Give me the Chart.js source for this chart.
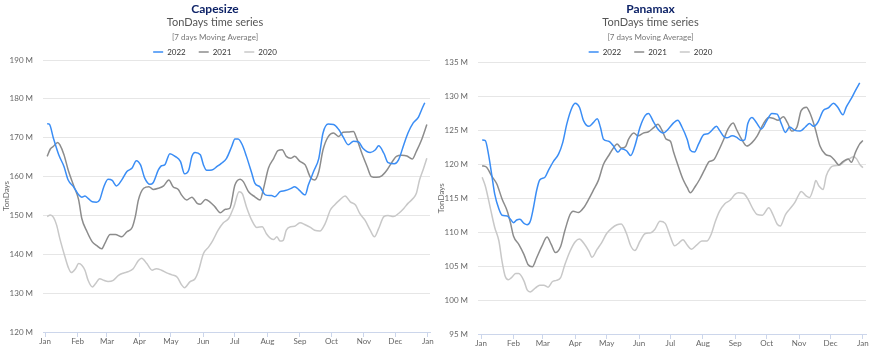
<!DOCTYPE html>
<html>
<head>
<meta charset="utf-8">
<script src="https://cdn.jsdelivr.net/npm/chart.js@4.4.1/dist/chart.umd.min.js"></script>
<style>
  body { margin: 0; background: #fff; }
  #capeBox { position: absolute; left: 0; top: 0; width: 440px; height: 352px; }
  #panaBox { position: absolute; left: 435px; top: 0; width: 439px; height: 352px; }
</style>
</head>
<body>
<div id="capeBox"><canvas id="cape"></canvas></div>
<div id="panaBox"><canvas id="pana"></canvas></div>
<script>
// x is day of year, y is TonDays in millions (7 days moving average)
var years = ['2022', '2021', '2020'];
var colors = ['#3a8df5', '#8c8c8c', '#c8c8c8'];
var monthStarts = [0, 31, 59, 90, 120, 151, 181, 212, 243, 273, 304, 334, 365];
var monthLabels = ['Jan', 'Feb', 'Mar', 'Apr', 'May', 'Jun', 'Jul', 'Aug', 'Sep', 'Oct', 'Nov', 'Dec', 'Jan'];

// Capesize
var cape2022 = [[2,173.6],[4,173.5],[8,169.8],[13,165.6],[18,162.6],[22,159.1],[27,157.4],[32,155.3],[35,154.7],[38,155],[41,154.4],[45,153.5],[49,153.4],[52,154],[56,157.4],[60,159.3],[64,159],[68,157.6],[73,159.1],[78,161.3],[83,162.2],[87,164.1],[91,163],[95,159.6],[100,158],[103,158.4],[108,161.7],[111,162.8],[114,163],[119,165.9],[124,165.2],[129,163.9],[133,160.7],[137,161.7],[140,165.2],[143,166.2],[148,165.6],[151,163],[154,161.6],[159,161.7],[164,162.6],[168,163.4],[173,164.7],[178,167.8],[181,169.7],[184,169.7],[188,168.2],[192,165.2],[197,160.9],[200,158.3],[205,157.3],[210,155.3],[216,155.1],[219,154.8],[224,156.1],[229,156.4],[234,156.9],[238,157.4],[242,156.6],[248,155.3],[251,157.8],[256,161.3],[261,164.7],[265,171.2],[270,173.5],[275,173.4],[280,172.1],[284,170.3],[289,168.2],[294,169.1],[299,168.9],[303,167.3],[310,166.2],[315,166.9],[318,167.9],[323,166],[327,163.6],[333,163.3],[337,164.3],[342,168.2],[346,171.2],[351,173.8],[356,175.3],[359,177.2],[362,179]];
var cape2021 = [[2,165.2],[5,167.1],[8,167.8],[12,168.8],[14,168.2],[18,165.6],[22,161.7],[27,157.8],[32,154],[35,149.2],[40,145.8],[45,143.2],[49,142.3],[54,141.4],[57,142.8],[62,145.1],[67,145.1],[73,144.5],[78,145.8],[83,146.9],[86,149.7],[89,154],[94,157],[99,157.4],[103,156.7],[108,157],[113,157.6],[118,159.1],[122,157.4],[127,156.7],[130,155.3],[135,154],[140,154.7],[145,153.1],[148,152.9],[153,154.1],[157,153.5],[162,152.2],[167,150.7],[172,151.6],[176,151.8],[181,157.8],[186,159.3],[189,158.7],[194,156.1],[200,154.8],[205,154],[208,156.6],[213,162.2],[218,164.7],[222,166.7],[226,166.9],[230,165.2],[234,164.7],[238,165.2],[243,163.9],[248,163],[253,159.8],[257,159.1],[261,161.3],[265,166.9],[270,170.3],[275,171.2],[280,170.3],[284,171.4],[289,171.5],[294,171.6],[297,169.9],[302,166],[307,162.6],[311,160],[316,159.8],[321,160.2],[326,161.7],[330,163.4],[335,165.2],[340,165.5],[345,165.3],[350,164.5],[354,166.5],[359,169.5],[364,173.4]];
var cape2020 = [[2,149.7],[5,150.1],[8,149.5],[11,147.5],[14,144.1],[19,139.3],[22,136.7],[25,135.3],[29,136.3],[32,137.6],[35,137.2],[38,135.9],[41,133.3],[45,131.6],[48,132.4],[52,133.7],[56,133.3],[60,133],[65,133.3],[70,134.6],[75,135.2],[79,135.5],[84,136.3],[89,138.4],[92,139],[97,137.6],[102,135.9],[106,136.3],[111,135.9],[116,135.2],[121,134.7],[126,134.1],[130,132.2],[133,131.4],[138,132.9],[143,133.7],[146,135.5],[151,140.2],[156,141.9],[160,143.6],[165,146.2],[170,148.1],[175,149.2],[180,152.2],[185,156.1],[188,155.6],[192,152.2],[197,148.8],[202,146.9],[207,147.1],[211,145.3],[215,144.1],[218,143.8],[221,144.5],[224,143.4],[227,143.6],[230,146.2],[234,147.1],[238,147.2],[243,148.1],[248,147.6],[253,146.9],[257,146.2],[262,146],[267,147.9],[272,151.4],[276,152.7],[281,154],[286,155],[291,153.5],[296,152.7],[300,150.5],[305,148.8],[310,146.2],[314,144.5],[318,146.6],[323,149.7],[327,150],[332,149.7],[337,150.5],[342,151.8],[346,153.1],[351,154.4],[354,155.7],[357,159.1],[361,162.2],[364,164.7]];

// Panamax
var pana2022 = [[1,123.6],[4,123.5],[7,121.5],[10,118.6],[13,115.6],[17,113.4],[20,112.5],[25,112.4],[28,111.9],[31,111.4],[34,111.8],[37,111.9],[41,111.3],[44,111.1],[47,111.6],[50,113.6],[53,116.1],[56,117.7],[61,118.1],[64,119],[69,120.4],[74,121.5],[78,123.2],[82,126],[87,128.4],[90,129],[94,128.4],[98,126.4],[103,125.6],[107,126.1],[111,126.7],[114,125.5],[117,123.7],[122,123.4],[126,122.8],[131,121.8],[134,122.3],[139,122],[143,121.3],[147,122.7],[152,125.5],[157,127.2],[160,127.5],[165,126.2],[169,125.2],[174,124.6],[179,125.2],[184,126.1],[188,126.5],[192,125.5],[197,123.7],[200,122.1],[204,121.8],[208,123],[213,124.4],[217,124.5],[220,124.9],[225,125.6],[228,125],[232,124.1],[235,123.9],[240,124.2],[244,124],[249,123.5],[252,123.6],[255,126],[259,126.9],[263,126.2],[268,125.2],[273,126.4],[278,127.5],[283,127.4],[287,126],[291,124.7],[295,125.5],[300,125],[305,124.9],[310,125.5],[314,126],[318,125.6],[322,126.2],[327,127.9],[332,128.3],[337,129],[341,128.4],[346,127.3],[349,128.4],[354,129.7],[358,130.9],[362,132]];
var pana2021 = [[1,119.8],[5,119.6],[10,118.3],[15,117.1],[20,114.9],[25,113.1],[28,111.4],[31,109.4],[36,108.2],[41,106.7],[45,105.2],[49,104.9],[53,106.2],[58,107.9],[63,109.3],[67,108.2],[71,107],[76,107.9],[80,110.2],[85,112.6],[88,113.1],[93,112.9],[98,113.6],[103,114.9],[107,116.1],[112,117.6],[117,120],[122,121.3],[126,122.3],[130,123],[134,122.4],[138,122.6],[141,123.7],[146,124.6],[150,124.2],[155,124.6],[160,124.8],[165,125.4],[169,125.9],[173,125],[177,123.7],[181,123.4],[184,121.8],[189,119.5],[193,117.8],[197,116.6],[200,115.8],[205,116.8],[209,117.8],[214,119.3],[218,120.4],[222,120.6],[227,122],[232,123.7],[236,125.2],[241,126.1],[244,125.2],[249,123.7],[254,122.7],[259,123.2],[264,124.2],[270,126],[275,126.9],[279,126.8],[284,126.5],[289,127],[293,126.1],[297,124.9],[302,125.5],[306,127.9],[311,128.4],[314,127.7],[319,125.5],[324,122.7],[329,121.5],[334,121.2],[338,120.6],[342,119.9],[346,120.4],[351,120.8],[354,120.3],[358,121.8],[362,123],[365,123.5]];
var pana2020 = [[1,118.1],[4,116.8],[9,113.4],[13,110.7],[17,108.7],[20,105.7],[23,103.5],[26,103],[29,103.3],[33,103.9],[36,103.9],[41,102.8],[44,101.5],[47,101.2],[52,101.8],[56,102.2],[60,102.2],[64,101.9],[68,102.7],[72,102.9],[76,103.3],[80,105.2],[85,107.2],[90,108.6],[94,109],[98,108.4],[103,107.2],[106,106.3],[111,107.5],[115,108.4],[120,109.8],[125,110.6],[130,111.1],[134,111.2],[139,109.8],[143,108],[147,107.3],[152,108.7],[157,109.8],[162,109.9],[166,110.4],[171,111.6],[176,111.3],[181,109.3],[185,108],[189,108.4],[193,108.9],[197,108.1],[201,107.5],[206,108.1],[211,108.7],[216,108.7],[220,109.7],[224,111.6],[228,113.1],[233,114.2],[238,114.7],[243,115.6],[246,115.8],[251,115.7],[255,114.9],[260,113.4],[264,112.6],[269,112.5],[275,113.6],[279,112.6],[283,111.2],[286,110.9],[291,112.6],[295,113.4],[300,114.4],[303,115.3],[306,116],[311,115.3],[314,115.1],[318,116.6],[320,117.6],[323,116.8],[327,116.3],[330,118.3],[334,119.5],[338,119.8],[343,119.9],[348,120.5],[353,120.9],[356,121.1],[359,120.8],[362,120],[365,119.5]];

Chart.defaults.font.family = 'Lato, "Open Sans", sans-serif';

function makeChart(id, title, series, yMin, yMax, yStep, xMin, xMax, pad, trim) {
	// legend is a bit too tall by default, cut it down
	var trimLegend = {
		id: 'trimLegend',
		afterInit: function (chart) {
			var lg = chart.legend;
			var fit = lg.fit;
			lg.fit = function () { fit.call(this); this.height -= trim; };
		}
	};
	return new Chart(document.getElementById(id), {
		type: 'line',
		data: {
			datasets: series.map(function (s, i) {
				return {
					label: years[i],
					data: s.map(function (p) { return { x: p[0], y: p[1] }; }),
					borderColor: colors[i],
					backgroundColor: colors[i],
					borderWidth: 1.5,
					pointRadius: 0,
					cubicInterpolationMode: 'monotone',
					fill: false
				};
			})
		},
		plugins: [trimLegend],
		options: {
			responsive: true,
			maintainAspectRatio: false,
			animation: false,
			layout: { padding: pad },
			plugins: {
				tooltip: { enabled: false },
				title: {
					display: true,
					text: title,
					color: '#0f2468',
					font: { size: 12, weight: 'bold', lineHeight: 1 },
					padding: { top: 3, bottom: 0 }
				},
				subtitle: {
					display: true,
					text: 'TonDays time series',
					color: '#555',
					font: { size: 11, lineHeight: 1 },
					padding: { top: 2, bottom: 0 }
				},
				legend: {
					display: true,
					title: {
						display: true,
						text: '[7 days Moving Average]',
						color: '#777',
						font: { size: 8, lineHeight: 1 },
						padding: { top: 5, bottom: -6 }
					},
					labels: {
						usePointStyle: true,
						pointStyle: 'line',
						pointStyleWidth: 10,
						padding: 13,
						color: '#333',
						font: { size: 8 }
					}
				}
			},
			scales: {
				x: {
					type: 'linear',
					min: xMin,
					max: xMax,
					afterBuildTicks: function (axis) {
						axis.ticks = monthStarts.map(function (v) { return { value: v }; });
					},
					ticks: {
						autoSkip: false,
						maxRotation: 0,
						padding: 0,
						color: '#666',
						font: { size: 8 },
						callback: function (v, i) { return monthLabels[i]; }
					},
					grid: { drawOnChartArea: false, drawTicks: true, tickLength: 5, color: '#ccd6eb' },
					border: { color: '#ccd6eb' }
				},
				y: {
					min: yMin,
					max: yMax,
					afterFit: function (scale) { scale.width = 43; },
					ticks: {
						stepSize: yStep,
						padding: 10,
						color: '#666',
						font: { size: 8 },
						callback: function (v) { return v + ' M'; }
					},
					grid: { color: '#e6e6e6', drawTicks: false },
					border: { display: false },
					title: {
						display: true,
						text: 'TonDays',
						color: '#666',
						font: { size: 8 },
						padding: { top: 2, bottom: 0 }
					}
				}
			}
		}
	});
}

makeChart('cape', 'Capesize', [cape2022, cape2021, cape2020], 120, 190, 10, -2, 367,
	{ top: 0, right: 10, bottom: 5.4, left: 0 }, 6);
makeChart('pana', 'Panamax', [pana2022, pana2021, pana2020], 95, 135, 5, -3, 368,
	{ top: 0, right: 8, bottom: 3.4, left: 0 }, 3.5);
</script>
</body>
</html>
